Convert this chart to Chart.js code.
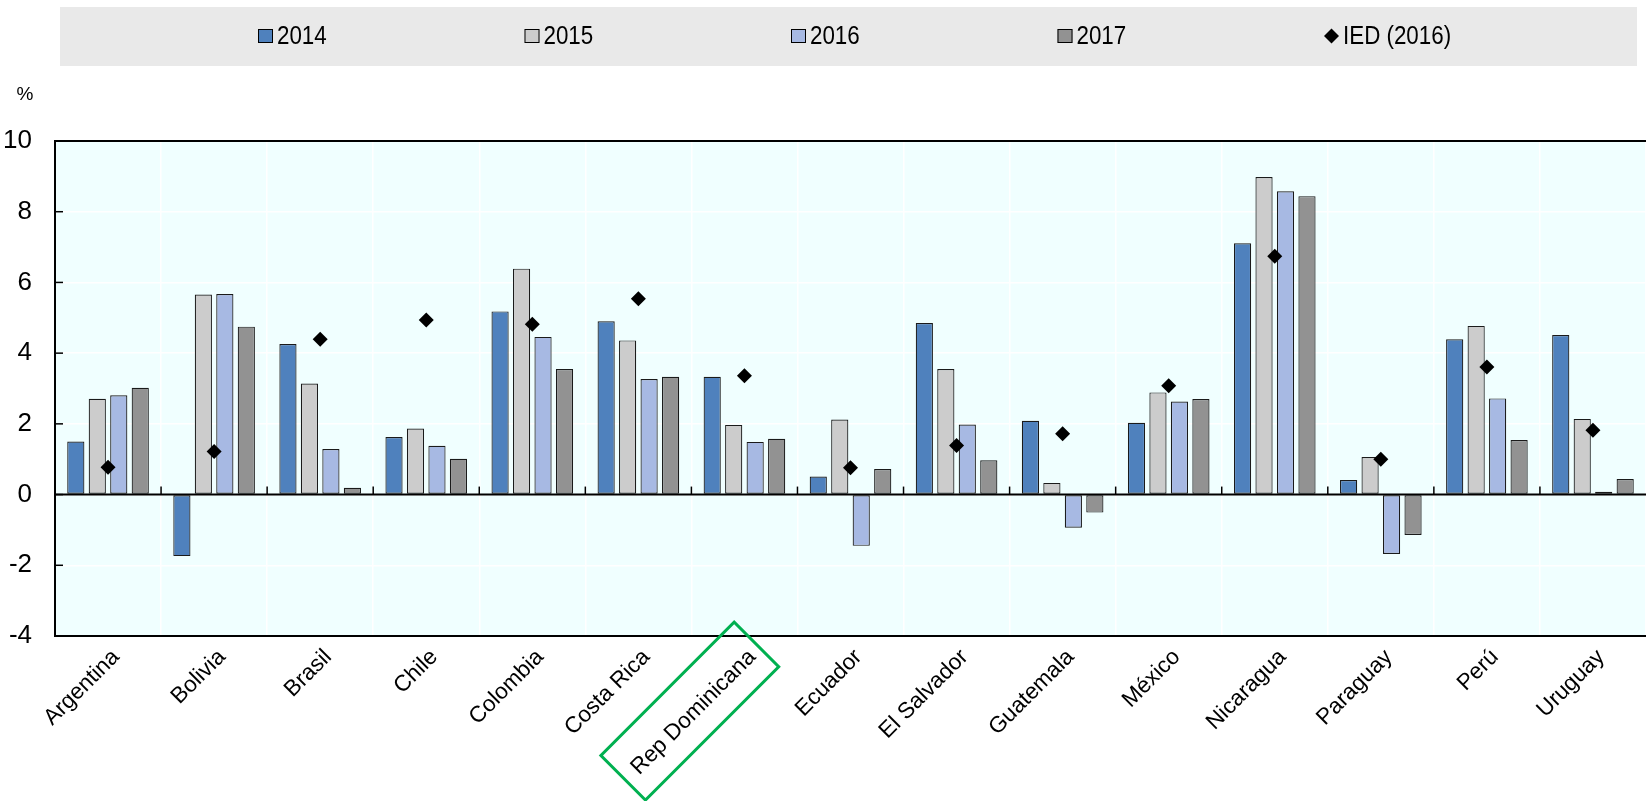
<!DOCTYPE html>
<html>
<head>
<meta charset="utf-8">
<script src="https://cdn.jsdelivr.net/npm/chart.js@4/dist/chart.umd.min.js"></script>
<style>
    html, body { margin: 0; padding: 0; background: #fff; overflow: hidden; }
    #wrap { width: 1646px; height: 801px; position: relative; }
</style>
</head>
<body>
<div id="wrap"><canvas id="chart"></canvas></div>
<script>
// 数据
const categories = ['Argentina', 'Bolivia', 'Brasil', 'Chile', 'Colombia', 'Costa Rica', 'Rep Dominicana',
    'Ecuador', 'El Salvador', 'Guatemala', 'México', 'Nicaragua', 'Paraguay', 'Perú', 'Uruguay'];
const seriesNames = ['2014', '2015', '2016', '2017', 'IED (2016)'];
const y2014 = [1.50, -1.74, 4.26, 1.63, 5.18, 4.90, 3.33, 0.51, 4.85, 2.09, 2.03, 7.11, 0.41, 4.39, 4.51];
const y2015 = [2.71, 5.66, 3.14, 1.87, 6.39, 4.36, 1.97, 2.12, 3.55, 0.33, 2.89, 8.98, 1.06, 4.77, 2.14];
const y2016 = [2.81, 5.67, 1.29, 1.38, 4.46, 3.27, 1.49, -1.45, 1.98, -0.94, 2.63, 8.58, -1.68, 2.72, 0.08];
const y2017 = [3.02, 4.75, 0.19, 1.01, 3.55, 3.33, 1.58, 0.72, 0.97, -0.51, 2.70, 8.44, -1.14, 1.54, 0.44];
const ied2016 = [0.77, 1.22, 4.39, 4.94, 4.82, 5.54, 3.36, 0.76, 1.39, 1.72, 3.08, 6.74, 1.00, 3.61, 1.82];
const yTicks = [-4, -2, 0, 2, 4, 6, 8, 10];
const highlighted = 'Rep Dominicana';

const FONT = "'Liberation Sans', Arial, sans-serif";
const barColors = ['#4f81bd', '#cccccc', '#a7b9e3', '#929292'];

// 背景、图例和边框
const decorPlugin = {
    id: 'decor',
    beforeDraw(chart) {
        const ctx = chart.ctx;
        const area = chart.chartArea;
        ctx.save();
        ctx.fillStyle = '#f0ffff';
        ctx.fillRect(area.left, area.top, area.right - area.left, area.bottom - area.top);

        // 图例框
        ctx.fillStyle = '#e9e9e9';
        ctx.fillRect(60, 7, 1577, 59);
        ctx.textBaseline = 'middle';
        ctx.textAlign = 'left';
        chart.data.datasets.forEach((ds, i) => {
            const x = 258 + i * 266.5;
            const y = 36;
            if (ds.type === 'line') {
                ctx.fillStyle = '#000';
                ctx.beginPath();
                ctx.moveTo(x, y);
                ctx.lineTo(x + 7.5, y - 7.5);
                ctx.lineTo(x + 15, y);
                ctx.lineTo(x + 7.5, y + 7.5);
                ctx.closePath();
                ctx.fill();
            } else {
                ctx.fillStyle = ds.backgroundColor;
                ctx.fillRect(x, y - 7, 15, 14);
                ctx.strokeStyle = '#000';
                ctx.lineWidth = 1;
                ctx.strokeRect(x + 0.5, y - 6.5, 14, 13);
            }
            // 窄体文字
            ctx.save();
            ctx.translate(x + 19, y + 1);
            ctx.scale(0.86, 1);
            ctx.font = '26px ' + FONT;
            ctx.fillStyle = '#000';
            ctx.fillText(ds.label, 0, 0);
            ctx.restore();
        });

        // 单位
        ctx.font = '19px ' + FONT;
        ctx.fillStyle = '#000';
        ctx.textAlign = 'center';
        ctx.fillText('%', 25, 95);
        ctx.restore();
    },
    afterDatasetsDraw(chart) {
        const ctx = chart.ctx;
        const area = chart.chartArea;
        const xs = chart.scales.x;
        const ys = chart.scales.y;
        ctx.save();
        ctx.strokeStyle = '#000';

        // 顶部边框
        ctx.lineWidth = 2;
        ctx.beginPath();
        ctx.moveTo(area.left, area.top);
        ctx.lineTo(area.right, area.top);
        ctx.stroke();

        // 零线
        const y0 = ys.getPixelForValue(0);
        ctx.beginPath();
        ctx.moveTo(area.left, y0);
        ctx.lineTo(area.right, y0);
        ctx.stroke();

        // 零线上的分类刻度
        ctx.lineWidth = 1.5;
        for (let i = 1; i < categories.length; i++) {
            const x = xs.getPixelForValue(i - 0.5);
            ctx.beginPath();
            ctx.moveTo(x, y0);
            ctx.lineTo(x, y0 - 8);
            ctx.stroke();
        }

        // y轴内侧刻度
        yTicks.forEach(v => {
            const y = ys.getPixelForValue(v);
            ctx.beginPath();
            ctx.moveTo(area.left, y);
            ctx.lineTo(area.left + 8, y);
            ctx.stroke();
        });
        ctx.restore();
    },
    afterDraw(chart) {
        // 突出显示的国家
        const ctx = chart.ctx;
        const idx = categories.indexOf(highlighted);
        if (idx < 0) return;
        const x = chart.scales.x.getPixelForValue(idx);
        ctx.save();
        ctx.translate(x, chart.chartArea.bottom);
        ctx.rotate(-Math.PI / 4);
        ctx.strokeStyle = '#00b050';
        ctx.lineWidth = 3;
        ctx.strokeRect(-186, -17, 188.5, 63);
        ctx.restore();
    }
};

const barSets = [y2014, y2015, y2016, y2017].map((data, i) => ({
    type: 'bar',
    label: seriesNames[i],
    data: data,
    backgroundColor: barColors[i],
    borderColor: '#1a1a1a',
    borderWidth: 1.2,
    borderSkipped: false,
    categoryPercentage: 0.81,
    barPercentage: 0.8,
    order: 1
}));

const chart = new Chart(document.getElementById('chart'), {
    data: {
        labels: categories,
        datasets: [...barSets, {
            type: 'line',
            label: seriesNames[4],
            data: ied2016,
            showLine: false,
            pointStyle: 'rectRot',
            pointRadius: 7.5,
            pointBackgroundColor: '#000',
            pointBorderColor: '#000',
            pointBorderWidth: 0,
            order: 0
        }]
    },
    options: {
        responsive: true,
        maintainAspectRatio: false,
        animation: false,
        layout: { autoPadding: false, padding: { top: 141, right: 0, bottom: 0, left: 0 } },
        plugins: {
            legend: { display: false },
            tooltip: { enabled: false }
        },
        scales: {
            x: {
                offset: true,
                grid: { offset: true, color: '#ffffff', lineWidth: 1.5, drawTicks: false },
                border: { color: '#000', width: 2 },
                ticks: {
                    color: '#000',
                    font: { family: FONT, size: 22.5 },
                    minRotation: 45,
                    maxRotation: 45,
                    autoSkip: false,
                    padding: 8,
                    labelOffset: 8
                },
                afterFit(scale) {
                    scale.height = 165;
                    scale.paddingRight = 0;
                }
            },
            y: {
                min: -4,
                max: 10,
                grid: { color: '#ffffff', lineWidth: 1.5, drawTicks: false },
                border: { color: '#000', width: 2 },
                ticks: {
                    stepSize: 2,
                    color: '#000',
                    font: { family: FONT, size: 26 },
                    padding: 23
                },
                afterFit(scale) { scale.width = 55; }
            }
        }
    },
    plugins: [decorPlugin]
});
</script>
</body>
</html>
